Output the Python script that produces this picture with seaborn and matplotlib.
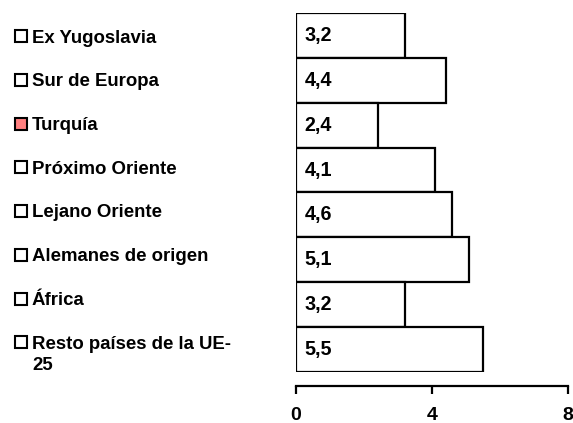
import pandas as pd
import matplotlib.pyplot as plt
import seaborn as sns

# data
grupos = ['Ex Yugoslavia', 'Sur de Europa', 'Turquía', 'Próximo Oriente',
          'Lejano Oriente', 'Alemanes de origen', 'África', 'Resto países de la UE-\n25']
valores = [3.2, 4.4, 2.4, 4.1, 4.6, 5.1, 3.2, 5.5]
marcas = ['white', 'white', '#FF8080', 'white', 'white', 'white', 'white', 'white']
ticks = [0, 4, 8]

df = pd.DataFrame({'grupo': grupos, 'valor': valores})

sns.set_style('white')
plt.rcParams['font.family'] = ['Liberation Sans', 'DejaVu Sans']
plt.rcParams['text.color'] = 'black'
plt.rcParams['xtick.color'] = 'black'

W, H = 573, 423
fig = plt.figure(figsize=(W / 100, H / 100), dpi=100)
ax = fig.add_axes([296 / W, (H - 372) / H, 272 / W, 359 / H])

sns.barplot(data=df, x='valor', y='grupo', orient='h', color='white',
            edgecolor='black', linewidth=1.6, width=1.0, ax=ax)

# spine position first: it resets the ticks
for s in ['top', 'right', 'left']:
    ax.spines[s].set_visible(False)
ax.spines['bottom'].set_position(('outward', 10))
ax.spines['bottom'].set_linewidth(1.6)
ax.spines['bottom'].set_color('black')

ax.set_xlim(0, 8)
ax.set_ylim(len(grupos) - 0.5, -0.5)
ax.set_xticks(ticks)
ax.set_xticklabels([str(t) for t in ticks], fontsize=14, fontweight='bold')
ax.tick_params(axis='x', direction='out', length=6, width=1.6, pad=9.5,
               bottom=True, colors='black')
ax.set_yticks([])
ax.set_xlabel('')
ax.set_ylabel('')

# value labels inside the bars
for i, v in enumerate(valores):
    ax.text(0.26, i, f'{v:.1f}'.replace('.', ','), va='center', ha='left',
            fontsize=14.2, fontweight='bold')

# legend-style category labels on the left (pixel layout, top-down)
for i, (g, c) in enumerate(zip(grupos, marcas)):
    yc = 36.3 + 43.7 * i          # cap-height centre of first line, px from top
    fig.patches.append(plt.Rectangle((15 / W, (H - yc - 6) / H), 12 / W, 12 / H,
                                     transform=fig.transFigure, facecolor=c,
                                     edgecolor='black', linewidth=1.5))
    for j, line in enumerate(g.split('\n')):
        base = yc + 6.3 + 21 * j
        fig.text(32 / W, (H - base) / H, line, ha='left', va='baseline',
                 fontsize=13.4, fontweight='bold')

fig.savefig('out.png', dpi=100)
